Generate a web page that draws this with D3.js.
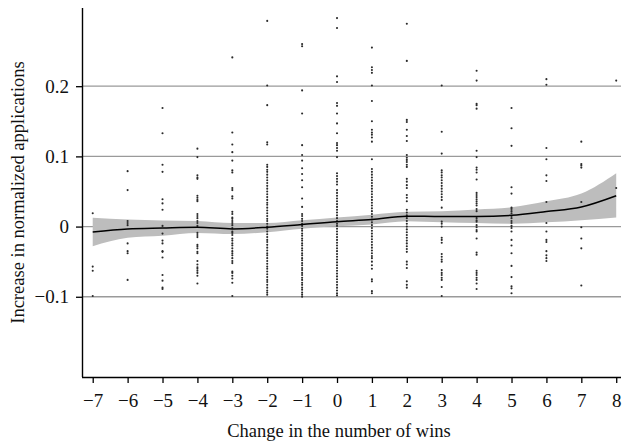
<!DOCTYPE html>
<html><head><meta charset="utf-8">
<script src="https://cdn.jsdelivr.net/npm/d3@7"></script>
<style>
html,body{margin:0;padding:0;background:#fff;}
svg text{font-family:"Liberation Serif","Times New Roman",Times,"DejaVu Serif",serif !important;}
</style></head>
<body><svg id="c" width="624" height="441"></svg>
<script>
// ---- data ----
const categories = [-7,-6,-5,-4,-3,-2,-1,0,1,2,3,4,5,6,7,8];
const yTicks = [-0.1, 0, 0.1, 0.2];
const xTickLabels = ["−7","−6","−5","−4","−3","−2","−1","0","1","2","3","4","5","6","7","8"];
const yTickLabels = ["−0.1","0","0.1","0.2"];

const ptsM7 = [0.019,-0.057,-0.063,-0.099];
const ptsM6 = [0.079,0.052,0.008,0.005,0.002,-0.024,-0.035,-0.038,-0.076];
const ptsM5 = [0.169,0.133,0.088,0.078,0.039,0.033,0.024,0.001,-0.010,-0.020,-0.024,-0.035,-0.036,-0.044,-0.069,-0.077,-0.087,-0.089];
const ptsM4 = [0.111,0.099,0.073,0.070,0.068,0.044,0.041,0.038,0.036,0.018,0.015,0.012,0.008,0.005,0.001,-0.009,-0.012,-0.015,-0.026,-0.028,-0.031,-0.036,-0.038,-0.049,-0.054,-0.058,-0.060,-0.063,-0.066,-0.070,-0.081];
const ptsM3 = [0.241,0.134,0.117,0.106,0.094,0.080,0.077,0.055,0.052,0.043,0.040,0.021,0.018,0.013,0.011,0.008,0.005,0.002,-0.002,-0.007,-0.009,-0.012,-0.017,-0.020,-0.024,-0.027,-0.031,-0.035,-0.038,-0.041,-0.045,-0.049,-0.052,-0.064,-0.066,-0.070,-0.074,-0.080,-0.099];
const ptsM2 = [0.293,0.201,0.173,0.120,0.117,0.088,0.085,0.081,0.078,0.074,0.070,0.066,0.062,0.058,0.054,0.050,0.046,0.042,0.038,0.034,0.031,0.027,0.023,0.019,0.015,0.011,0.008,0.004,0.000,-0.003,-0.007,-0.011,-0.015,-0.019,-0.022,-0.026,-0.030,-0.034,-0.038,-0.041,-0.045,-0.049,-0.053,-0.057,-0.060,-0.064,-0.068,-0.072,-0.076,-0.079,-0.083,-0.087,-0.091,-0.094,-0.097];
const ptsM1 = [0.260,0.257,0.194,0.161,0.116,0.102,0.094,0.083,0.075,0.066,0.056,0.040,0.028,0.018,0.015,0.011,0.008,0.004,0.001,-0.003,-0.006,-0.010,-0.013,-0.017,-0.020,-0.024,-0.027,-0.031,-0.034,-0.038,-0.041,-0.045,-0.048,-0.052,-0.055,-0.059,-0.062,-0.066,-0.069,-0.073,-0.076,-0.080,-0.083,-0.087,-0.090,-0.094,-0.097,-0.100];
const ptsP0 = [0.297,0.283,0.214,0.206,0.176,0.172,0.161,0.147,0.133,0.119,0.116,0.112,0.108,0.099,0.076,0.072,0.068,0.064,0.060,0.052,0.048,0.044,0.040,0.036,0.032,0.028,0.024,0.020,0.016,0.012,0.008,0.004,0.001,-0.003,-0.007,-0.011,-0.015,-0.019,-0.023,-0.027,-0.031,-0.035,-0.039,-0.043,-0.047,-0.051,-0.055,-0.059,-0.063,-0.067,-0.071,-0.075,-0.079,-0.083,-0.087,-0.091,-0.095,-0.098];
const ptsP1 = [0.255,0.227,0.223,0.219,0.201,0.179,0.150,0.138,0.134,0.131,0.127,0.121,0.096,0.082,0.078,0.074,0.070,0.066,0.062,0.058,0.054,0.050,0.046,0.042,0.038,0.034,0.030,0.026,0.022,0.018,0.014,0.010,0.006,0.002,-0.002,-0.006,-0.010,-0.014,-0.018,-0.022,-0.026,-0.030,-0.034,-0.038,-0.042,-0.045,-0.050,-0.055,-0.060,-0.075,-0.078,-0.092,-0.095];
const ptsP2 = [0.289,0.236,0.152,0.149,0.138,0.129,0.122,0.102,0.098,0.095,0.092,0.088,0.085,0.068,0.064,0.059,0.055,0.045,0.041,0.036,0.024,0.020,0.016,0.012,0.008,0.004,0.000,-0.004,-0.008,-0.012,-0.016,-0.020,-0.024,-0.028,-0.032,-0.036,-0.050,-0.054,-0.059,-0.078,-0.083,-0.087];
const ptsP3 = [0.201,0.135,0.104,0.080,0.077,0.073,0.070,0.066,0.062,0.058,0.054,0.050,0.046,0.042,0.038,0.027,0.007,0.004,0.000,-0.016,-0.019,-0.023,-0.039,-0.043,-0.047,-0.050,-0.062,-0.066,-0.069,-0.073,-0.076,-0.086,-0.099];
const ptsP4 = [0.222,0.208,0.175,0.173,0.168,0.108,0.099,0.084,0.081,0.077,0.067,0.048,0.045,0.042,0.039,0.036,0.033,0.030,0.025,0.022,0.012,0.009,0.007,0.002,-0.001,-0.005,-0.007,-0.017,-0.037,-0.040,-0.063,-0.066,-0.069,-0.073,-0.076,-0.081,-0.089];
const ptsP5 = [0.169,0.140,0.115,0.056,0.047,0.027,0.025,0.022,0.019,0.015,0.012,0.008,0.005,0.001,-0.002,-0.007,-0.019,-0.027,-0.038,-0.056,-0.072,-0.085,-0.088,-0.095];
const ptsP6 = [0.210,0.202,0.112,0.096,0.073,0.065,0.035,0.005,-0.007,-0.019,-0.022,-0.035,-0.041,-0.045,-0.049];
const ptsP7 = [0.121,0.089,0.087,0.084,0.035,-0.001,-0.017,-0.031,-0.084];
const ptsP8 = [0.208,0.055];

const smoothY = [-0.0076,-0.0033,-0.002,-0.001,-0.0033,-0.001,0.003,0.007,0.010,0.0148,0.0143,0.0143,0.016,0.0215,0.028,0.044];
const lowerY  = [-0.028,-0.016,-0.013,-0.009,-0.0105,-0.008,-0.003,0.0005,0.003,0.0076,0.006,0.005,0.004,0.006,0.009,0.013];
const upperY  = [0.0124,0.010,0.0086,0.008,0.005,0.005,0.009,0.013,0.017,0.021,0.022,0.0245,0.0275,0.036,0.047,0.076];

// ---- build ----
const columns = [ptsM7,ptsM6,ptsM5,ptsM4,ptsM3,ptsM2,ptsM1,ptsP0,ptsP1,ptsP2,ptsP3,ptsP4,ptsP5,ptsP6,ptsP7,ptsP8];
const points = [];
columns.forEach((col,i)=>col.forEach(v=>points.push({x:categories[i],y:v})));
const curve = categories.map((c,i)=>({x:c,y:smoothY[i],lo:lowerY[i],hi:upperY[i]}));

const FONT = '"Liberation Serif","Times New Roman",Times,serif';
const svg = d3.select("#c");
const pLeft = 82, pRight = 624, pTop = 8, pBottom = 377, lineEnd = 621;
const x = d3.scaleLinear().domain([-7.307, 8.223]).range([pLeft, pRight]);
const y = d3.scaleLinear().domain([-0.2143, 0.3114]).range([pBottom, pTop]);

// gridlines
svg.append("g").selectAll("line").data(yTicks).join("line")
  .attr("x1", pLeft).attr("x2", lineEnd)
  .attr("y1", d=>y(d)).attr("y2", d=>y(d))
  .attr("stroke", "#9a9a9a").attr("stroke-width", 1.3);

// band
svg.append("path").datum(curve)
  .attr("fill", "#bdbdbd")
  .attr("d", d3.area().x(d=>x(d.x)).y0(d=>y(d.lo)).y1(d=>y(d.hi)).curve(d3.curveMonotoneX));

// points
svg.append("g").selectAll("circle").data(points).join("circle")
  .attr("cx", d=>x(d.x)).attr("cy", d=>y(d.y)).attr("r", 1.05)
  .attr("fill", "#2a2a2a");

// smooth line
svg.append("path").datum(curve)
  .attr("fill", "none").attr("stroke", "#000").attr("stroke-width", 1.5)
  .attr("d", d3.line().x(d=>x(d.x)).y(d=>y(d.y)).curve(d3.curveMonotoneX));

// axes
const xAxis = d3.axisBottom(x).tickValues(categories).tickSize(6).tickPadding(11)
  .tickFormat((d,i)=>xTickLabels[i]);
const gx = svg.append("g").attr("transform", `translate(0,${pBottom})`).call(xAxis);
gx.attr("font-family", FONT);
gx.select(".domain").attr("d", `M${pLeft},0.5H${lineEnd}`).attr("stroke-width", 1.4);
gx.selectAll(".tick line").attr("stroke-width", 1.3);
gx.selectAll("text").style("font-size", "19px").style("font-family", FONT).attr("fill", "#111");

const yAxis = d3.axisLeft(y).tickValues(yTicks).tickSize(6).tickPadding(7)
  .tickFormat((d,i)=>yTickLabels[i]);
const gy = svg.append("g").attr("transform", `translate(${pLeft},0)`).call(yAxis);
gy.attr("font-family", FONT);
gy.select(".domain").attr("d", `M0.5,${pTop}V${pBottom}`).attr("stroke-width", 1.4);
gy.selectAll(".tick line").attr("stroke-width", 1.3);
gy.selectAll("text").style("font-size", "19px").style("font-family", FONT).attr("fill", "#111");

// titles
svg.append("text").attr("x", 339).attr("y", 437).attr("text-anchor", "middle")
  .style("font-size", "18.5px").style("font-family", FONT).attr("fill", "#111").text("Change in the number of wins");
svg.append("text").attr("transform", `translate(24,${(pTop+pBottom)/2}) rotate(-90)`).attr("text-anchor", "middle")
  .style("font-size", "18.5px").style("font-family", FONT).attr("fill", "#111").text("Increase in normalized applications");
</script>
</body></html>
